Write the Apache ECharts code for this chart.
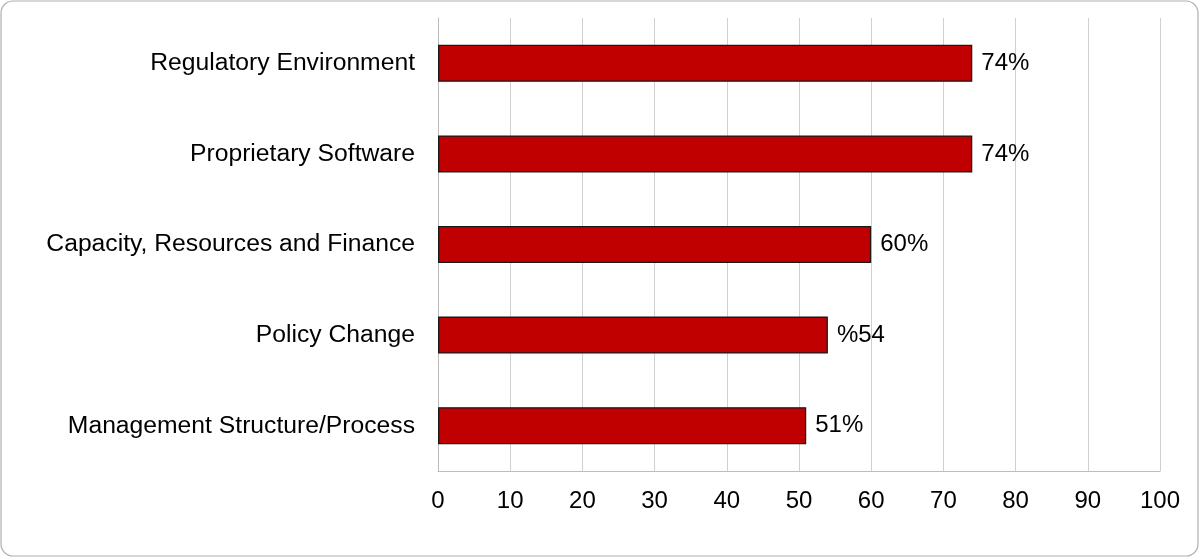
<!DOCTYPE html>
<html>
<head>
<meta charset="utf-8">
<style>
    html, body { margin: 0; padding: 0; background: #fff; }
    #main { width: 1200px; height: 558px; }
</style>
</head>
<body>
<div id="main"></div>
<script src="https://cdn.jsdelivr.net/npm/echarts@6/dist/echarts.min.js"></script>
<script type="text/javascript">
    // data, top to bottom as in the picture
    var categories = ['Regulatory Environment', 'Proprietary Software', 'Capacity, Resources and Finance', 'Policy Change', 'Management Structure/Process'];
    var values = [74, 74, 60, 54, 51];
    var valueLabels = ['74%', '74%', '60%', '%54', '51%'];
    var tickLabels = ['0', '10', '20', '30', '40', '50', '60', '70', '80', '90', '100'];

    var myChart = echarts.init(document.getElementById('main'));
    var font = 'Liberation Sans, Arial, Helvetica, sans-serif';

    var option = {
        animation: false,
        textStyle: { fontFamily: font },
        graphic: [{
            type: 'rect',
            shape: { x: 1, y: 1, width: 1197, height: 555, r: 12 },
            style: { fill: 'none', stroke: '#b0b0b0', lineWidth: 1.2 },
            silent: true
        }],
        grid: {
            left: 438,
            right: 40,
            top: 18,
            bottom: 87
        },
        xAxis: {
            type: 'value',
            min: 0,
            max: 100,
            interval: 10,
            axisLine: { show: true, lineStyle: { color: '#bcbcbc', width: 1 } },
            axisTick: { show: false },
            splitLine: { show: true, lineStyle: { color: '#d0d0d0', width: 1 } },
            axisLabel: {
                margin: 18,
                fontSize: 24,
                color: '#000',
                fontFamily: font,
                formatter: function (v) { return tickLabels[Math.round(v / 10)]; }
            }
        },
        yAxis: {
            type: 'category',
            inverse: true,
            data: categories,
            axisLine: { show: true, lineStyle: { color: '#bcbcbc', width: 1 } },
            axisTick: { show: false },
            axisLabel: {
                margin: 23,
                fontSize: 24.7,
                color: '#000',
                fontFamily: font
            }
        },
        series: [{
            type: 'bar',
            data: values,
            barWidth: 37,
            itemStyle: {
                color: '#c00000',
                borderColor: '#1a1a1a',
                borderWidth: 1.3
            },
            label: {
                show: true,
                position: 'right',
                distance: 9,
                fontSize: 24,
                color: '#000',
                fontFamily: font,
                formatter: function (p) { return valueLabels[p.dataIndex]; }
            }
        }]
    };
    myChart.setOption(option);
</script>
</body>
</html>
